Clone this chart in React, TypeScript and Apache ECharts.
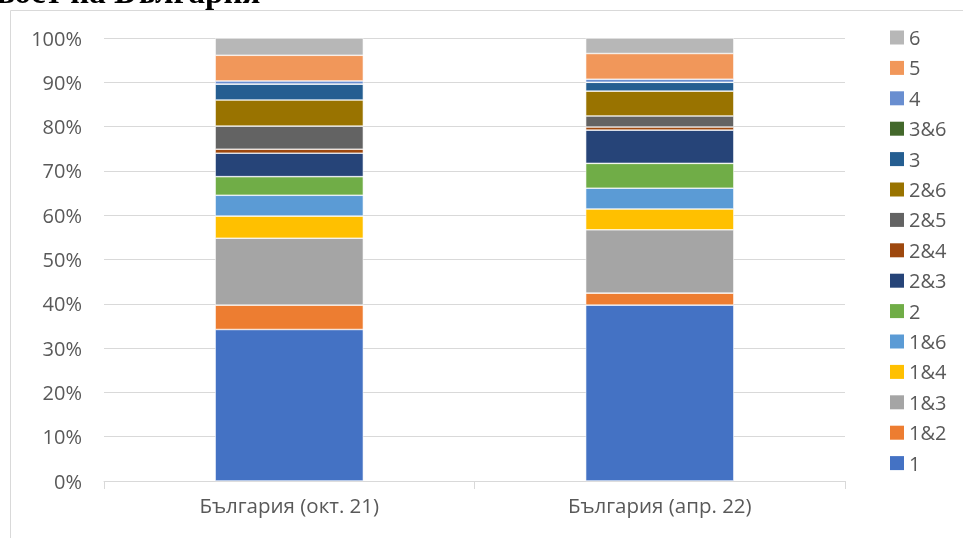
import React, { useEffect, useRef } from "react";
import * as echarts from "echarts";

const categories = ["България (окт. 21)", "България (апр. 22)"];
const seriesNames = ["1", "1&2", "1&3", "1&4", "1&6", "2", "2&3", "2&4", "2&5", "2&6", "3", "3&6", "4", "5", "6"];
const v1 = [34.2, 5.5, 15.1, 5.0, 4.7, 4.2, 5.3, 0.9, 5.2, 5.9, 3.6, 0, 0.7, 5.8, 3.9];
const v2 = [39.7, 2.7, 14.3, 4.7, 4.7, 5.6, 7.5, 0.7, 2.5, 5.6, 2.0, 0, 0.7, 5.8, 3.5];
const colors = ["#4472C4", "#ED7D31", "#A5A5A5", "#FFC000", "#5B9BD5", "#70AD47", "#264478", "#9E480E", "#636363", "#997300", "#255E91", "#43682B", "#698ED0", "#F1975A", "#B7B7B7"];
const yTicks = [0, 10, 20, 30, 40, 50, 60, 70, 80, 90, 100];
const titleText = "вост на България";

export default function App() {
  const ref = useRef<HTMLDivElement>(null);
  useEffect(() => {
    if (!ref.current) return;
    const chart = echarts.init(ref.current, undefined, { renderer: "svg" });
    const font = "'Open Sans', 'Noto Sans', sans-serif";
    chart.setOption({
      animation: false,
      color: colors,
      graphic: [
        {
          type: "rect",
          shape: { x: 10.5, y: 10.5, width: 1000, height: 600 },
          style: { fill: "none", stroke: "#d9d9d9", lineWidth: 1 },
          silent: true,
        },
        {
          type: "text",
          x: -3,
          y: 8,
          style: {
            text: titleText,
            font: "bold 33px 'Liberation Serif', 'DejaVu Serif', serif",
            fill: "#000",
            verticalAlign: "bottom",
          },
          silent: true,
        },
      ],
      grid: { left: 104, right: 118, top: 38, bottom: 57, containLabel: false },
      legend: {
        orient: "vertical",
        left: 885,
        top: 22,
        itemWidth: 14,
        itemHeight: 14,
        itemGap: 9.4,
        itemStyle: { borderWidth: 0 },
        icon: "rect",
        data: [...seriesNames].reverse(),
        textStyle: { color: "#595959", fontSize: 20, lineHeight: 21, fontFamily: font },
      },
      xAxis: {
        type: "category",
        data: categories,
        axisLine: { show: true, lineStyle: { color: "#d9d9d9", width: 1 } },
        axisTick: { show: true, alignWithLabel: false, length: 8, lineStyle: { color: "#d9d9d9" } },
        axisLabel: { color: "#595959", fontSize: 20.5, fontFamily: font, margin: 13 },
      },
      yAxis: {
        type: "value",
        min: 0,
        max: 100,
        interval: 10,
        axisLine: { show: false },
        axisTick: { show: false },
        splitLine: { show: true, lineStyle: { color: "#d9d9d9", width: 1 } },
        axisLabel: {
          color: "#595959",
          fontSize: 20,
          fontFamily: font,
          margin: 22,
          formatter: (v: number) => (yTicks.includes(v) ? v + "%" : ""),
        },
      },
      series: seriesNames.map((name, i) => ({
        name,
        type: "bar",
        stack: "total",
        barWidth: "40%",
        data: [v1[i], v2[i]],
        itemStyle: { color: colors[i], borderColor: "#ffffff", borderWidth: 0.6 },
      })),
    });
    return () => chart.dispose();
  }, []);
  return <div ref={ref} style={{ position: "fixed", left: 0, top: 0, width: 963, height: 538 }} />;
}
